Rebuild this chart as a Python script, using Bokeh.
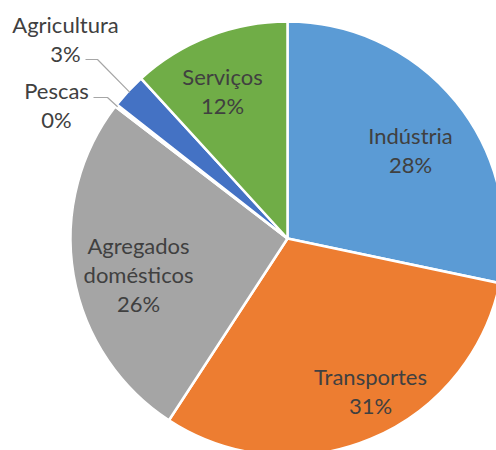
import math
from bokeh.plotting import figure
from bokeh.models import Range1d, ColumnDataSource
from bokeh.core.properties import value
from bokeh.embed import file_html
from bokeh.resources import INLINE

# ---- data ----
categories = ["Indústria", "Transportes", "Agregados domésticos", "Pescas", "Agricultura", "Serviços"]
shares = [28.3, 30.9, 26.2, 0.2, 2.6, 11.8]
colors = ["#5B9BD5", "#ED7D31", "#A5A5A5", "#FFC000", "#4472C4", "#70AD47"]
label_lines = [["Indústria"], ["Transportes"], ["Agregados", "domésticos"], ["Pescas"], ["Agricultura"], ["Serviços"]]

# ---- layout (page pixel coordinates) ----
W, H = 496, 450
PAGE_H = 450
CX, CY, R = 287, 238, 217
label_pos = [(410, 135), (370, 376), (138, 245), (56, 90), (65, 24), (222, 76)]
LINE_H = 29
# leader lines for outside labels: (category index, start x, knee x, y)
leaders = [(4, 85, 97, 59), (3, 93, 107, 97)]


def py(y):
    return PAGE_H - y


total = sum(shares)
starts, ends, mids = [], [], []
cum = 0.0
for s in shares:
    f0 = cum / total
    cum += s
    f1 = cum / total
    starts.append(math.pi / 2 - 2 * math.pi * f0)
    ends.append(math.pi / 2 - 2 * math.pi * f1)
    mids.append(2 * math.pi * (f0 + f1) / 2)  # clockwise from top

p = figure(width=W, height=H,
           x_range=Range1d(0, W), y_range=Range1d(py(H), py(0)),
           output_backend="svg", toolbar_location=None,
           min_border=0, x_axis_location=None, y_axis_location=None,
           outline_line_color=None, background_fill_color="white",
           border_fill_color="white")
p.grid.visible = False

src = ColumnDataSource(dict(cat=categories, start=starts, end=ends, color=colors))
p.wedge(x=CX, y=py(CY), radius=R, start_angle="start", end_angle="end",
        direction="clock", fill_color="color", line_color="white",
        line_width=2.5, source=src)

# leader lines
for idx, x0, xk, y0 in leaders:
    a = mids[idx]
    ex = CX + (R - 2) * math.sin(a)
    ey = CY - (R - 2) * math.cos(a)
    p.line(x=[x0, xk, ex], y=[py(y0), py(y0), py(ey)],
           line_color="#A6A6A6", line_width=1.2)

xs, ys, texts = [], [], []
for i, lines in enumerate(label_lines):
    lx, ly = label_pos[i]
    all_lines = lines + [f"{round(shares[i])}%"]
    for k, t in enumerate(all_lines):
        xs.append(lx)
        ys.append(py(ly + k * LINE_H))
        texts.append(t)

p.text(x=xs, y=ys, text=texts, text_font=value("Lato"),
       text_font_size=value("22px"), text_color="#404040",
       text_align="center", text_baseline="middle")

open("out.html", "w").write(file_html(p, INLINE))
